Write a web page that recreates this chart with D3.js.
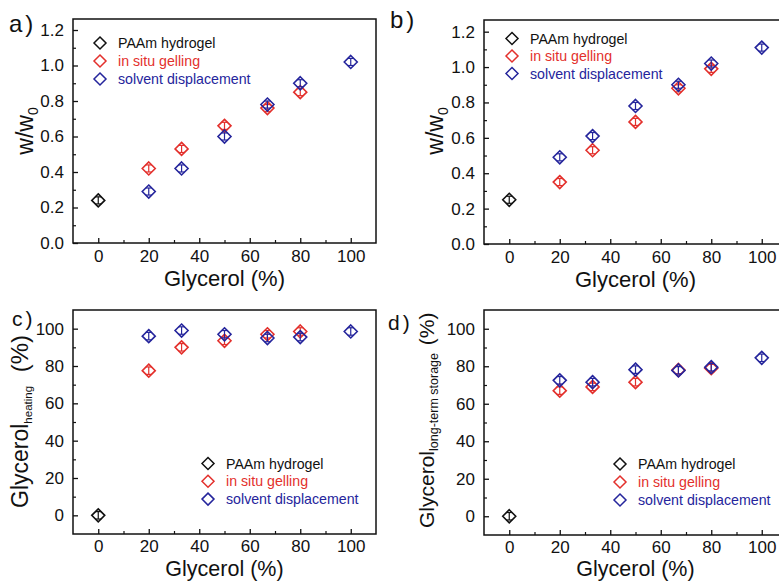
<!DOCTYPE html>
<html><head><meta charset="utf-8">
<script src="https://cdn.jsdelivr.net/npm/d3@7"></script>
<style>
html,body{margin:0;padding:0;background:#fff;}
svg{display:block;font-family:"Liberation Sans",Arial,sans-serif;}
</style></head>
<body>
<svg id="chart" width="779" height="581"></svg>
<script>
// ---------------- data ----------------
const seriesNames = ["PAAm hydrogel", "in situ gelling", "solvent displacement"];
const paamX = [0];
const inSituX = [20, 33, 50, 67, 80];
const solventX = [20, 33, 50, 67, 80, 100];
const xTicks = [0, 20, 40, 60, 80, 100];

// panel a: w/w0
const paamA = [0.24];
const inSituA = [0.42, 0.53, 0.66, 0.76, 0.85];
const solventA = [0.29, 0.42, 0.60, 0.78, 0.90, 1.02];
// panel b: w/w0
const paamB = [0.25];
const inSituB = [0.35, 0.53, 0.69, 0.88, 0.99];
const solventB = [0.49, 0.61, 0.78, 0.90, 1.02, 1.11];
// panel c: Glycerol heating (%)
const paamC = [0];
const inSituC = [77.5, 90, 93.5, 97, 98.5];
const solventC = [96, 99, 97, 95, 95.5, 98.5];
// panel d: Glycerol long-term storage (%)
const paamD = [0];
const inSituD = [67, 69, 71.5, 78, 79];
const solventD = [72.5, 71.5, 78.2, 77.8, 79.5, 84.5];

// error bars (small, estimated)
const errW = 0.02;
const errPct = 2;

const wTicks = [0.0, 0.2, 0.4, 0.6, 0.8, 1.0, 1.2];
const pctTicks = [0, 20, 40, 60, 80, 100];

const colors = ["#111111", "#e3302c", "#25259c"];

// ---------------- drawing ----------------
const svg = d3.select("#chart");

function diamond(r) { return `M0,${-r}L${r},0L0,${r}L${-r},0Z`; }

function panel(cfg) {
  const {left, top, right, bottom} = cfg.box;
  const x = d3.scaleLinear().domain([-10, 110]).range([left, right]);
  const y = d3.scaleLinear().domain(cfg.yDomain).range([bottom, top]);
  const g = svg.append("g");

  // frame
  g.append("rect").attr("x", left).attr("y", top)
    .attr("width", right - left).attr("height", bottom - top)
    .attr("fill", "none").attr("stroke", "#111").attr("stroke-width", 1.5);

  // x axis major ticks (inward)
  const xAxis = d3.axisBottom(x).tickValues(xTicks).tickSizeInner(-5).tickSizeOuter(0).tickPadding(cfg.xPad)
    .tickFormat(d3.format("d"));
  const gx = g.append("g").attr("transform", `translate(0,${bottom})`).call(xAxis);
  gx.select(".domain").remove();
  gx.selectAll("line").attr("stroke", "#111").attr("stroke-width", 1.3);
  gx.selectAll("text").attr("font-size", 17).attr("fill", "#111")
    .attr("font-family", "Liberation Sans, Arial, sans-serif");
  // x minor ticks
  const xMinor = d3.axisBottom(x).tickValues(d3.range(10, 100, 20)).tickSizeInner(-3).tickSizeOuter(0).tickFormat("");
  const gxm = g.append("g").attr("transform", `translate(0,${bottom})`).call(xMinor);
  gxm.select(".domain").remove();
  gxm.selectAll("line").attr("stroke", "#111").attr("stroke-width", 1.2);

  // y axis
  const yAxis = d3.axisLeft(y).tickValues(cfg.yTicks).tickSizeInner(-5).tickSizeOuter(0).tickPadding(9)
    .tickFormat(cfg.yFormat);
  const gy = g.append("g").attr("transform", `translate(${left},0)`).call(yAxis);
  gy.select(".domain").remove();
  gy.selectAll("line").attr("stroke", "#111").attr("stroke-width", 1.3);
  gy.selectAll("text").attr("font-size", 17).attr("fill", "#111")
    .attr("font-family", "Liberation Sans, Arial, sans-serif");
  const yMinor = d3.axisLeft(y).tickValues(cfg.yMinor).tickSizeInner(-3).tickSizeOuter(0).tickFormat("");
  const gym = g.append("g").attr("transform", `translate(${left},0)`).call(yMinor);
  gym.select(".domain").remove();
  gym.selectAll("line").attr("stroke", "#111").attr("stroke-width", 1.2);

  // x axis title
  g.append("text").attr("x", (left + right) / 2).attr("y", bottom + cfg.titleDy)
    .attr("text-anchor", "middle").attr("font-size", cfg.titleSize).attr("fill", "#111")
    .text("Glycerol (%)");

  // y axis title (rotated)
  const yt = g.append("text")
    .attr("transform", `translate(${cfg.yTitle.x},${cfg.yTitle.y}) rotate(-90)`)
    .attr("text-anchor", cfg.yTitle.anchor).attr("fill", "#111");
  cfg.yTitle.parts.forEach(p => {
    yt.append("tspan").attr("font-size", p.size).attr("dy", p.dy || 0).attr("dx", p.dx || 0).text(p.t);
  });

  // panel label
  g.append("text").attr("x", cfg.label.x).attr("y", cfg.label.y)
    .attr("font-size", cfg.label.size).attr("fill", "#111").attr("letter-spacing", 3)
    .text(cfg.label.t);

  // series
  const series = [
    {xs: paamX, ys: cfg.data[0], c: colors[0], err: cfg.err},
    {xs: inSituX, ys: cfg.data[1], c: colors[1], err: cfg.err},
    {xs: solventX, ys: cfg.data[2], c: colors[2], err: cfg.err}
  ];
  series.forEach(s => {
    const pts = s.xs.map((xv, i) => ({x: xv, y: s.ys[i]}));
    const sg = g.append("g");
    const pg = sg.selectAll("g").data(pts).join("g")
      .attr("transform", d => `translate(${x(d.x)},${y(d.y)})`);
    pg.append("path").attr("d", diamond(6.5)).attr("fill", "none")
      .attr("stroke", s.c).attr("stroke-width", 1.6);
    // error bars
    sg.selectAll("line.eb").data(pts).join("line").attr("class", "eb")
      .attr("x1", d => x(d.x)).attr("x2", d => x(d.x))
      .attr("y1", d => y(d.y - s.err)).attr("y2", d => y(d.y + s.err))
      .attr("stroke", s.c).attr("stroke-width", 1.2);
    sg.selectAll("line.cap1").data(pts).join("line").attr("class", "cap1")
      .attr("x1", d => x(d.x) - 3).attr("x2", d => x(d.x) + 3)
      .attr("y1", d => y(d.y + s.err)).attr("y2", d => y(d.y + s.err))
      .attr("stroke", s.c).attr("stroke-width", 1.2);
    sg.selectAll("line.cap2").data(pts).join("line").attr("class", "cap2")
      .attr("x1", d => x(d.x) - 3).attr("x2", d => x(d.x) + 3)
      .attr("y1", d => y(d.y - s.err)).attr("y2", d => y(d.y - s.err))
      .attr("stroke", s.c).attr("stroke-width", 1.2);
  });

  // legend
  const lg = g.append("g");
  seriesNames.forEach((name, i) => {
    const cy = cfg.legend.y + i * cfg.legend.dy;
    lg.append("path").attr("d", diamond(6)).attr("fill", "none").attr("stroke", colors[i])
      .attr("stroke-width", 1.5).attr("transform", `translate(${cfg.legend.x},${cy})`);
    lg.append("text").attr("x", cfg.legend.x + 18).attr("y", cy + 5)
      .attr("font-size", 14.2).attr("fill", colors[i]).text(name);
  });
}

const wFmt = d3.format(".1f");
const pctFmt = d3.format("d");

panel({
  box: {left: 73, top: 19, right: 376, bottom: 243},
  yDomain: [0, 1.262], yTicks: wTicks, yMinor: d3.range(0.1, 1.25, 0.2), yFormat: wFmt,
  data: [paamA, inSituA, solventA], err: errW,
  xPad: 7, titleDy: 43, titleSize: 22,
  yTitle: {x: 33, y: 131, anchor: "middle", parts: [{t: "w/w", size: 23}, {t: "0", size: 14, dy: 5}]},
  label: {x: 9, y: 32, size: 24, t: "a)"},
  legend: {x: 100, y: 43, dy: 18}
});

panel({
  box: {left: 484, top: 20, right: 787, bottom: 244},
  yDomain: [0, 1.266], yTicks: wTicks, yMinor: d3.range(0.1, 1.25, 0.2), yFormat: wFmt,
  data: [paamB, inSituB, solventB], err: errW,
  xPad: 7, titleDy: 43, titleSize: 22,
  yTitle: {x: 443, y: 131, anchor: "middle", parts: [{t: "w/w", size: 23}, {t: "0", size: 14, dy: 5}]},
  label: {x: 390, y: 28, size: 24, t: "b)"},
  legend: {x: 512, y: 38.5, dy: 17.5}
});

panel({
  box: {left: 73, top: 310, right: 376, bottom: 534},
  yDomain: [-10, 110], yTicks: pctTicks, yMinor: d3.range(10, 110, 20), yFormat: pctFmt,
  data: [paamC, inSituC, solventC], err: errPct,
  xPad: 6, titleDy: 42, titleSize: 21.5,
  yTitle: {x: 28, y: 508, anchor: "start", parts: [
    {t: "Glycerol", size: 23}, {t: "heating", size: 11.5, dy: 4}, {t: " (%)", size: 24, dy: -4, dx: 7}]},
  label: {x: 12, y: 326, size: 21, t: "c)"},
  legend: {x: 208, y: 463.5, dy: 17.8}
});

panel({
  box: {left: 484, top: 310, right: 787, bottom: 535},
  yDomain: [-10, 110], yTicks: pctTicks, yMinor: d3.range(10, 110, 20), yFormat: pctFmt,
  data: [paamD, inSituD, solventD], err: errPct,
  xPad: 6, titleDy: 41, titleSize: 21.5,
  yTitle: {x: 434, y: 528, anchor: "start", parts: [
    {t: "Glycerol", size: 21}, {t: "long-term storage", size: 12.5, dy: 4}, {t: " (%)", size: 21, dy: -4, dx: 2}]},
  label: {x: 388, y: 330, size: 21, t: "d)"},
  legend: {x: 620, y: 464, dy: 18}
});
</script>
</body></html>
